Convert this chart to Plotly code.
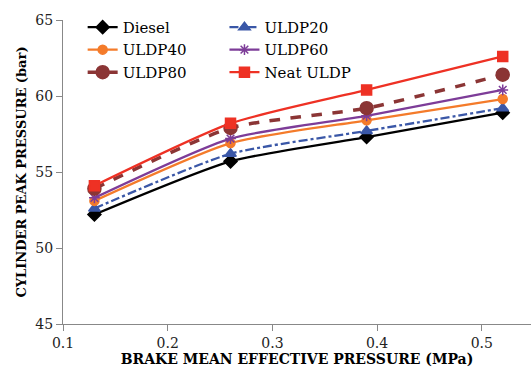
import plotly.graph_objects as go

bmep = [0.13, 0.26, 0.39, 0.52]
diesel = [52.2, 55.7, 57.3, 58.9]
uldp20 = [52.6, 56.2, 57.7, 59.2]
uldp40 = [53.1, 56.9, 58.4, 59.8]
uldp60 = [53.3, 57.2, 58.7, 60.4]
uldp80 = [53.9, 57.9, 59.2, 61.4]
neat = [54.1, 58.2, 60.4, 62.6]

series = [
    ("Diesel", diesel, "#000000", "solid", "diamond", 10, "legend"),
    ("ULDP20", uldp20, "#3A57A7", "dashdot", "triangle-up", 10, "legend2"),
    ("ULDP40", uldp40, "#F47B2A", "solid", "circle", 9, "legend"),
    ("ULDP60", uldp60, "#7D3C98", "solid", "asterisk-open", 9, "legend2"),
    ("ULDP80", uldp80, "#8B3535", "dash", "circle", 13, "legend"),
    ("Neat ULDP", neat, "#EE3124", "solid", "square", 10, "legend2"),
]

fig = go.Figure()
for name, ys, col, dash, sym, size, lg in series:
    fig.add_trace(go.Scatter(
        x=bmep, y=ys, name=name, mode="lines+markers", legend=lg,
        line=dict(color=col, width=3.5 if dash == "dash" else 2.3, dash=dash, shape="spline", smoothing=0.6),
        marker=dict(symbol=sym, size=size, color=col, line=dict(color=col, width=1.5)),
    ))

font = "DejaVu Serif"
lgfont = dict(family=font, size=15, color="black")
fig.update_layout(
    width=531, height=375,
    margin=dict(l=63, r=0, t=20, b=51),
    paper_bgcolor="white", plot_bgcolor="white",
    font=dict(family=font, size=14, color="#222"),
    showlegend=True,
    legend=dict(x=0.042, y=1.03, xanchor="left", yanchor="top", font=lgfont,
                bgcolor="rgba(0,0,0,0)", tracegroupgap=0),
    legend2=dict(x=0.345, y=1.03, xanchor="left", yanchor="top", font=lgfont,
                 bgcolor="rgba(0,0,0,0)", tracegroupgap=0),
)
fig.update_xaxes(range=[0.1, 0.547], tickvals=[0.1, 0.2, 0.3, 0.4, 0.5],
                 ticktext=["0.1", "0.2", "0.3", "0.4", "0.5"],
                 showline=True, linecolor="#888", linewidth=1.2, ticks="outside",
                 tickcolor="#888", ticklen=6, showgrid=False, zeroline=False,
                 title=dict(text="<b>BRAKE MEAN EFFECTIVE PRESSURE (MPa)</b>",
                            font=dict(family=font, size=14, color="black"), standoff=4))
fig.update_yaxes(range=[45, 65], tickvals=[45, 50, 55, 60, 65],
                 showline=True, linecolor="#888", linewidth=1.2, ticks="outside",
                 tickcolor="#888", ticklen=6, showgrid=False, zeroline=False,
                 title=dict(text="<b>CYLINDER PEAK PRESSURE (bar)</b>",
                            font=dict(family=font, size=13, color="black"), standoff=5))

fig.write_html("out.html")
